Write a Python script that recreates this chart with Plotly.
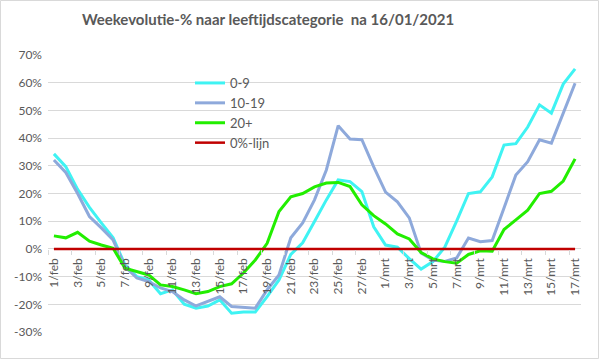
import plotly.graph_objects as go

# Categories (dates)
dates = [f"{d}/feb" for d in range(1, 29)] + [f"{d}/mrt" for d in range(1, 18)]

# Series values (%)
age_0_9 = [34.3, 29.7, 21.5, 15.0, 9.4, 4.0, -5.8, -10.0, -11.2, -16.2,
           -14.8, -20.0, -21.4, -20.6, -18.4, -23.2, -22.8, -22.8, -17.2, -11.2,
           -2.0, 2.2, 9.9, 17.7, 24.9, 24.3, 20.7, 8.0, 1.4, 0.6,
           -3.5, -7.3, -4.6, 0.6, 10.0, 20.0, 20.6, 26.0, 37.5, 38.0,
           44.0, 52.0, 49.0, 59.5, 65.0]
age_10_19 = [32.1, 27.6, 20.0, 11.7, 7.6, 3.2, -6.4, -10.5, -11.8, -14.1,
             -15.4, -18.4, -20.6, -19.0, -17.3, -20.8, -21.0, -21.4, -14.8, -9.4,
             4.0, 9.4, 17.7, 28.5, 44.5, 39.7, 39.4, 29.6, 20.5, 17.0,
             11.2, -1.5, -4.0, -4.5, -3.3, 3.9, 2.6, 3.0, 14.8, 26.7,
             31.5, 39.4, 38.2, 49.0, 59.8]
age_20_plus = [4.7, 4.0, 6.0, 2.8, 1.4, 0.2, -7.0, -8.3, -9.4, -13.0,
               -13.6, -14.8, -16.2, -15.4, -13.6, -12.6, -8.7, -4.0, 2.0, 13.5,
               18.8, 20.0, 22.4, 23.8, 24.0, 22.5, 15.9, 12.0, 9.0, 5.4,
               3.6, -1.3, -3.6, -4.6, -5.2, -2.0, -0.7, -0.8, 7.0, 10.5,
               14.0, 20.0, 20.8, 24.5, 32.5]
zero_line = [0.0] * len(dates)

y_ticks = [-30, -20, -10, 0, 10, 20, 30, 40, 50, 60, 70]
y_tick_labels = [f"{v}%" for v in y_ticks]

series = [
    ("0-9", age_0_9, "#3FF3F3", 3),
    ("10-19", age_10_19, "#8EA9DB", 3),
    ("20+", age_20_plus, "#22EE00", 3),
    ("0%-lijn", zero_line, "#C00000", 2.5),
]

FONT = "Lato"
GREY = "#595959"

fig = go.Figure()
for name, vals, color, w in series:
    fig.add_trace(go.Scatter(x=dates, y=vals, name=name, mode="lines",
                             line=dict(color=color, width=w)))

W, H = 599, 359
ml, mr, mt, mb = 48, 18, 55, 27
pw = W - ml - mr
ph = H - mt - mb

fig.update_layout(
    width=W, height=H,
    margin=dict(l=ml, r=mr, t=mt, b=mb, pad=0),
    paper_bgcolor="white", plot_bgcolor="white",
    font=dict(family=FONT, color=GREY, size=12),
    title=dict(text="Weekevolutie-% naar leeftijdscategorie  na 16/01/2021",
               x=268 / W, xanchor="center", xref="container",
               y=1 - 20 / H, yanchor="middle", yref="container",
               font=dict(family=FONT, size=15, color=GREY, weight="bold")),
    showlegend=True,
    legend=dict(x=(190 - ml) / pw, xanchor="left", y=1 - (68 - mt) / ph, yanchor="top",
                bgcolor="rgba(0,0,0,0)", borderwidth=0,
                font=dict(family=FONT, size=13, color=GREY),
                itemwidth=30, tracegroupgap=0),
    xaxis=dict(type="category", categoryorder="array", categoryarray=dates,
               tickmode="linear", dtick=2, tick0=0,
               tickangle=-90, tickson="boundaries",
               ticks="outside", ticklen=5, tickcolor="#D9D9D9",
               ticklabelstandoff=6,
               showgrid=False, zeroline=False, showline=False,
               anchor="free", position=30 / 100,
               tickfont=dict(family=FONT, size=12, color=GREY),
               range=[-0.5, len(dates) - 0.5]),
    yaxis=dict(range=[-30, 70], tickvals=y_ticks, ticktext=y_tick_labels,
               showgrid=True, gridcolor="#D9D9D9", gridwidth=1,
               zeroline=False, showline=False, ticks="",
               ticklabelstandoff=5,
               tickfont=dict(family=FONT, size=12, color=GREY),
               domain=[0, 1]),
)

# chart border
fig.add_shape(type="rect", xref="paper", yref="paper",
              x0=(0.5 - ml) / pw, x1=(W - 0.5 - ml) / pw,
              y0=(-(mb) + 0.5) / ph, y1=1 + (mt - 0.5) / ph,
              line=dict(color="#D9D9D9", width=1), layer="below")

fig.write_html("out.html", config={"displayModeBar": False},
               post_script="document.body.style.margin='0';document.body.style.overflow='hidden';")
